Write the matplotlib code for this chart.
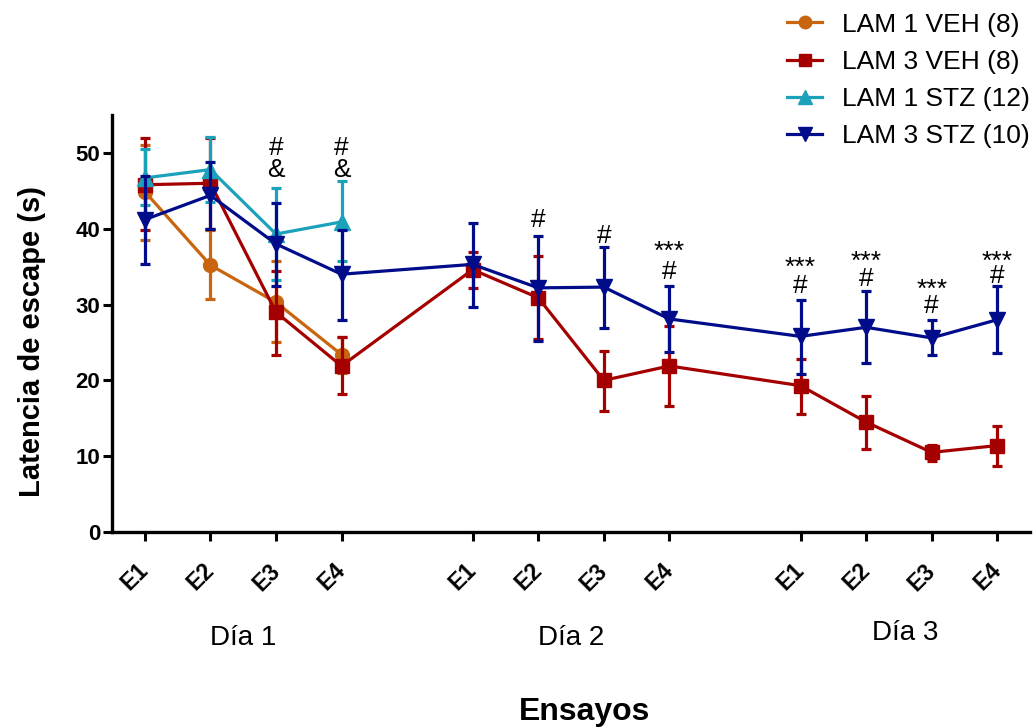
import matplotlib
matplotlib.use("Agg")
import matplotlib.pyplot as plt
import matplotlib.transforms as mtransforms
from matplotlib.lines import Line2D
from matplotlib.font_manager import FontProperties
import numpy as np

plt.rcParams['font.family'] = ['Liberation Sans', 'DejaVu Sans']

# x positions (trials) and labels
trial_labels = ["E1", "E2", "E3", "E4"] * 3
day_labels = ["Día 1", "Día 2", "Día 3"]
x_pos = [0, 1, 2, 3, 5, 6, 7, 8, 10, 11, 12, 13]
day_centers = [1.5, 6.5, 11.6]

# LAM 1 VEH (8) - only day 1
veh1_mean = [44.9, 35.2, 30.3, 23.4]
veh1_hi = [51.0, 39.8, 35.7, 25.7]
veh1_lo = [38.5, 30.7, 25.0, 21.0]

# LAM 3 VEH (8)
veh3_mean = [45.8, 46.0, 29.0, 21.9, 34.6, 30.9, 20.0, 21.9, 19.3, 14.5, 10.5, 11.4]
veh3_hi = [52.0, 52.0, 34.4, 25.7, 36.9, 36.4, 23.9, 27.2, 22.8, 17.9, 11.5, 14.0]
veh3_lo = [39.8, 40.0, 23.4, 18.2, 32.2, 25.4, 16.0, 16.6, 15.6, 11.0, 9.3, 8.7]

# LAM 1 STZ (12) - only day 1
stz1_mean = [46.7, 47.8, 39.3, 40.9]
stz1_hi = [50.5, 52.1, 45.4, 46.3]
stz1_lo = [43.1, 43.5, 33.2, 35.7]

# LAM 3 STZ (10)
stz3_mean = [41.2, 44.4, 38.0, 34.0, 35.3, 32.2, 32.3, 28.1, 25.8, 27.0, 25.6, 28.0]
stz3_hi = [46.9, 48.8, 43.4, 39.8, 40.8, 39.1, 37.6, 32.4, 30.6, 31.8, 27.9, 32.5]
stz3_lo = [35.3, 40.0, 32.4, 28.0, 29.7, 25.2, 26.9, 23.8, 20.8, 22.3, 23.3, 23.6]

# significance marks: trial index, symbols (top to bottom), y of each symbol
sig_index = [2, 3, 5, 6, 7, 8, 9, 10, 11]
sig_symbols = [["#", "&"], ["#", "&"], ["#"], ["#"], ["***", "#"],
               ["***", "#"], ["***", "#"], ["***", "#"], ["***", "#"]]
sig_y = [[51.0, 48.1], [51.0, 48.1], [41.4], [39.4], [38.1, 34.6],
         [35.9, 32.7], [36.7, 33.7], [33.1, 30.1], [36.7, 34.0]]

W, H = 1036, 728
fig = plt.figure(figsize=(W / 100, H / 100), dpi=100)
ax = fig.add_axes([112 / W, 1 - 532 / H, (1030 - 112) / W, (532 - 115) / H])

series = [
    ("LAM 1 VEH (8)", x_pos[:4], veh1_mean, veh1_hi, veh1_lo, "#C8650E", "o", 10, 2),
    ("LAM 3 VEH (8)", x_pos, veh3_mean, veh3_hi, veh3_lo, "#A50000", "s", 9.5, 3),
    ("LAM 1 STZ (12)", x_pos[:4], stz1_mean, stz1_hi, stz1_lo, "#1BA1BA", "^", 11, 4),
    ("LAM 3 STZ (10)", x_pos, stz3_mean, stz3_hi, stz3_lo, "#000C8A", "v", 11, 5),
]

handles = []
for label, xs, m, hi, lo, col, mk, ms, z in series:
    m = np.array(m); hi = np.array(hi); lo = np.array(lo)
    yerr = [m - lo, hi - m]
    ax.errorbar(xs, m, yerr=yerr, color=col, marker=mk, markersize=ms,
                linewidth=2.3, elinewidth=2.3, capsize=3.5, capthick=2.3,
                zorder=z)
    handles.append(Line2D([], [], color=col, marker=mk, markersize=ms - 1,
                          linewidth=2.3, label=label))

ax.set_xlim(-0.5, 13.5)
ax.set_ylim(0, 55)

# significance marks as one multi-line text per trial
fs_sig = 19
renderer = fig.canvas.get_renderer()
fp = FontProperties(family=['Liberation Sans', 'DejaVu Sans'], size=fs_sig)
_, lp_h, lp_d = renderer.get_text_width_height_descent("lp", fp, ismath=False)
lp_asc = lp_h - lp_d
em = fs_sig * fig.dpi / 72
glyph_c = {"***": 0.585, "#": 0.35, "&": 0.36}  # visual centre above baseline (em)
for xi, syms, ys in zip(sig_index, sig_symbols, sig_y):
    xd = x_pos[xi]
    py = [ax.transData.transform((xd, v))[1] for v in ys]
    base = [p - glyph_c[s] * em for p, s in zip(py, syms)]
    top_disp = base[0] + lp_asc
    if len(syms) > 1:
        ls = (base[0] - base[1] - lp_d) / lp_asc
    else:
        ls = 1.0
    top_data = ax.transData.inverted().transform((0, top_disp))[1]
    ax.text(xd, top_data, "\n".join(syms), ha="center", va="top",
            fontsize=fs_sig, linespacing=ls, multialignment="center", color="black")

ax.set_yticks([0, 10, 20, 30, 40, 50])
ax.set_xticks(x_pos)
ax.set_xticklabels([])
lab_off = mtransforms.ScaledTranslation(-9.5 / 100, -45 / 100, fig.dpi_scale_trans)
for xp, tl in zip(x_pos, trial_labels):
    ax.text(xp, 0, tl, transform=ax.get_xaxis_transform() + lab_off,
            rotation=45, ha="center", va="center", fontweight="bold", fontsize=16.5)
for lbl in ax.get_yticklabels():
    lbl.set_fontweight("bold")
    lbl.set_fontsize(16)

for s in ["top", "right"]:
    ax.spines[s].set_visible(False)
for s in ["left", "bottom"]:
    ax.spines[s].set_linewidth(2.4)
ax.tick_params(axis="both", direction="out", width=2.2, length=6.5)
ax.tick_params(axis="y", pad=2)

ax.set_ylabel("Latencia de escape (s)", fontsize=21, fontweight="bold")
ax.yaxis.set_label_coords(-0.072, 0.458)

# day labels
day_y = [638, 638, 633]
for dc, dl, dy in zip(day_centers, day_labels, day_y):
    xf = ax.transData.transform((dc, 0))[0] / W
    fig.text(xf, 1 - dy / H, dl, ha="center", va="center", fontsize=20)

fig.text(585 / W, 1 - 712 / H, "Ensayos", ha="center", va="center",
         fontsize=23, fontweight="bold")

leg = fig.legend(handles=handles, labels=[s[0] for s in series],
                 loc="upper right", bbox_to_anchor=(1.0, 1.0 - 6 / H),
                 frameon=False, fontsize=19, handlelength=1.3,
                 labelspacing=0.5, borderaxespad=0.1, borderpad=0.15,
                 handletextpad=0.75)

fig.savefig("out.png", dpi=100)
